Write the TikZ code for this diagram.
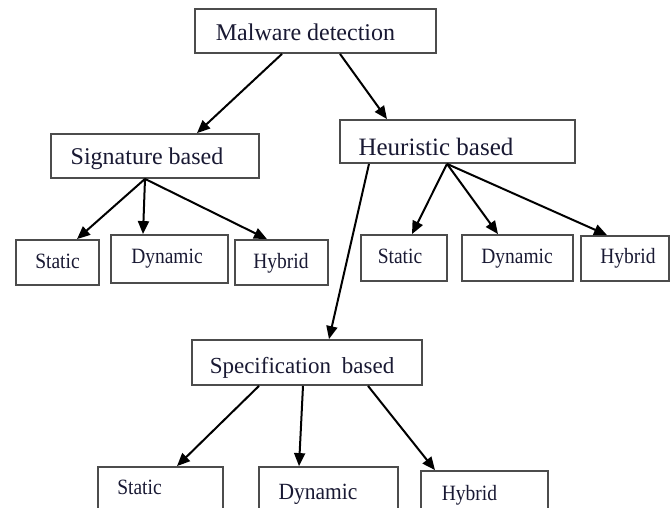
\documentclass[tikz,border=0pt]{standalone}
\usepackage{fontspec}
\setmainfont{Liberation Serif}
\usetikzlibrary{arrows.meta}
\definecolor{txtc}{rgb}{0.1,0.1,0.2}
\definecolor{boxc}{rgb}{0.3,0.3,0.3}
\tikzset{
  box/.style={draw=boxc, line width=1.8pt, fill=white, inner sep=0pt, rectangle},
  midtxt/.style={anchor=base, inner sep=0pt, text=txtc, font=\fontsize{24}{28}\selectfont},
  leaftxt/.style={anchor=base, inner sep=0pt, text=txtc, font=\fontsize{19.5}{23}\selectfont},
  conn/.style={draw=black, line width=2pt, -{Triangle[length=13pt,width=11pt]}}
}
\begin{document}
\begin{tikzpicture}[x=1pt,y=-1pt]
\path[use as bounding box, fill=white] (0,0) rectangle (670,508);
\clip (0,0) rectangle (670,508);
% boxes
\node[box, minimum width=241pt, minimum height=44pt] (mal) at (315.5,31) {};
\node[box, minimum width=208pt, minimum height=44pt] (sig) at (155,156) {};
\node[box, minimum width=235pt, minimum height=43pt] (heu) at (457.5,141.5) {};
\node[box, minimum width=230pt, minimum height=45pt] (spec) at (307,362.5) {};
\node[box, minimum width=83pt, minimum height=45pt] (ls) at (57.5,262.5) {};
\node[box, minimum width=117pt, minimum height=48pt] (ld) at (169.5,259) {};
\node[box, minimum width=93pt, minimum height=45pt] (lh) at (281.5,262.5) {};
\node[box, minimum width=86pt, minimum height=46pt] (rs) at (404,258) {};
\node[box, minimum width=111pt, minimum height=46pt] (rd) at (517.5,258) {};
\node[box, minimum width=88pt, minimum height=45pt] (rh) at (625,258.5) {};
\node[box, minimum width=125pt, minimum height=53pt] (bs) at (160.5,493.5) {};
\node[box, minimum width=139pt, minimum height=53pt] (bd) at (328.5,493.5) {};
\node[box, minimum width=127pt, minimum height=49pt] (bh) at (484.5,495.5) {};
% texts
\node[midtxt] (malt) at (305.5,41) {Malware detection};
\node[midtxt] (sigt) at (147,165) {Signature based};
\node[midtxt, font=\fontsize{25}{29}\selectfont] (heut) at (436,156) {Heuristic based};
\node[midtxt, font=\fontsize{23}{27}\selectfont] (spect) at (302,373) {Specification\hspace{5pt} based};
\node[leaftxt] (lst) at (57.5,268) {\scalebox{1}[1.12]{Static}};
\node[leaftxt] (ldt) at (167,263) {\scalebox{1}[1.12]{Dynamic}};
\node[leaftxt] (lht) at (281,268) {\scalebox{1}[1.12]{Hybrid}};
\node[leaftxt] (rst) at (400,263) {\scalebox{1}[1.12]{Static}};
\node[leaftxt] (rdt) at (517,263) {\scalebox{1}[1.12]{Dynamic}};
\node[leaftxt] (rht) at (628,263) {\scalebox{1}[1.12]{Hybrid}};
\node[leaftxt] (bst) at (139.5,494) {\scalebox{1}[1.12]{Static}};
\node[leaftxt, font=\fontsize{21.5}{25}\selectfont] (bdt) at (318,499) {\scalebox{1}[1.08]{Dynamic}};
\node[leaftxt] (bht) at (469.5,500) {\scalebox{1}[1.12]{Hybrid}};
% connectors
\draw[conn] ([xshift=-33.5pt]mal.south) -- ([xshift=42pt]sig.north);
\draw[conn] ([xshift=24.5pt]mal.south) -- ([xshift=-70.5pt]heu.north);
\draw[conn] ([xshift=-10pt]sig.south) -- ([xshift=19.5pt]ls.north);
\draw[conn] ([xshift=-10pt]sig.south) -- ([xshift=-26.5pt]ld.north);
\draw[conn] ([xshift=-10pt]sig.south) -- ([xshift=-14.5pt]lh.north);
\draw[conn] ([xshift=-10.5pt]heu.south) -- ([xshift=8pt]rs.north);
\draw[conn] ([xshift=-10.5pt]heu.south) -- ([xshift=-19.5pt]rd.north);
\draw[conn] ([xshift=-10.5pt]heu.south) -- ([xshift=-18pt]rh.north);
\draw[conn] ([xshift=-88.5pt]heu.south) -- ([xshift=22pt]spec.north);
\draw[conn] ([xshift=-48pt]spec.south) -- ([xshift=16.5pt]bs.north);
\draw[conn] ([xshift=-4pt]spec.south) -- ([xshift=-29.5pt]bd.north);
\draw[conn] ([xshift=61pt]spec.south) -- ([xshift=-49.5pt]bh.north);
\end{tikzpicture}
\end{document}
